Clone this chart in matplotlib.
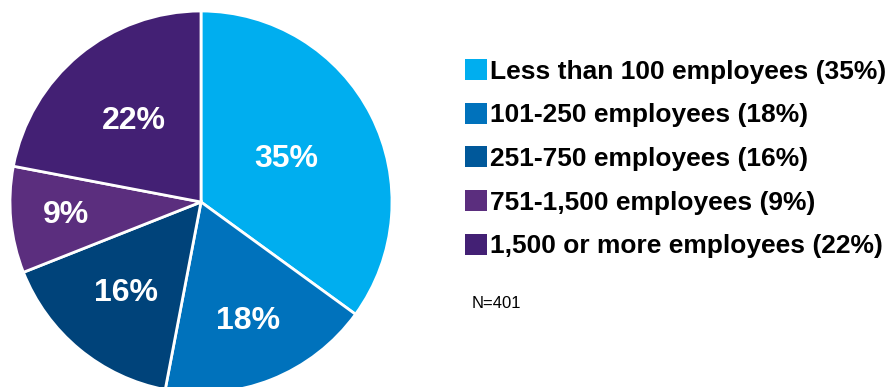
import matplotlib.pyplot as plt
from matplotlib.patches import Patch

plt.rcParams['font.family'] = ['Liberation Sans', 'DejaVu Sans']

labels = ['Less than 100 employees (35%)', '101-250 employees (18%)',
          '251-750 employees (16%)', '751-1,500 employees (9%)',
          '1,500 or more employees (22%)']
shares = [35, 18, 16, 9, 22]
colors = ['#00AEEF', '#0072BC', '#00437A', '#5B2E7E', '#432074']
legend_colors = ['#00AEEF', '#0072BC', '#00589A', '#5B2E7E', '#432074']
# how far out each percent label sits
label_r = [0.50, 0.67, 0.62, 0.71, 0.55]

fig = plt.figure(figsize=(8.9, 3.87), dpi=100)
ax = fig.add_axes([10 / 890, -6 / 387, 382 / 890, 382 / 387])

wedges, texts, pcts = ax.pie(shares, colors=colors, startangle=90, counterclock=False,
                             autopct='%d%%', pctdistance=0.6,
                             wedgeprops=dict(edgecolor='white', linewidth=2))
for t, r in zip(pcts, label_r):
    x, y = t.get_position()
    d = (x ** 2 + y ** 2) ** 0.5
    t.set_position((x / d * r, y / d * r))
    t.set_color('white')
    t.set_fontsize(23)
    t.set_fontweight('bold')
ax.set_xlim(-1, 1)
ax.set_ylim(-1, 1)

handles = [Patch(facecolor=c, edgecolor='none') for c in legend_colors]
fig.legend(handles, labels, loc='upper left', bbox_to_anchor=(465 / 890, 1 - 59 / 387),
           frameon=False, prop=dict(size=19, weight='bold'),
           handlelength=0.85, handleheight=0.85, handletextpad=0.1,
           labelspacing=0.72, borderpad=0, borderaxespad=0)

fig.text(472 / 890, 1 - 303 / 387, 'N=401', fontsize=12, va='center', ha='left')

fig.savefig('out.png', dpi=100)
